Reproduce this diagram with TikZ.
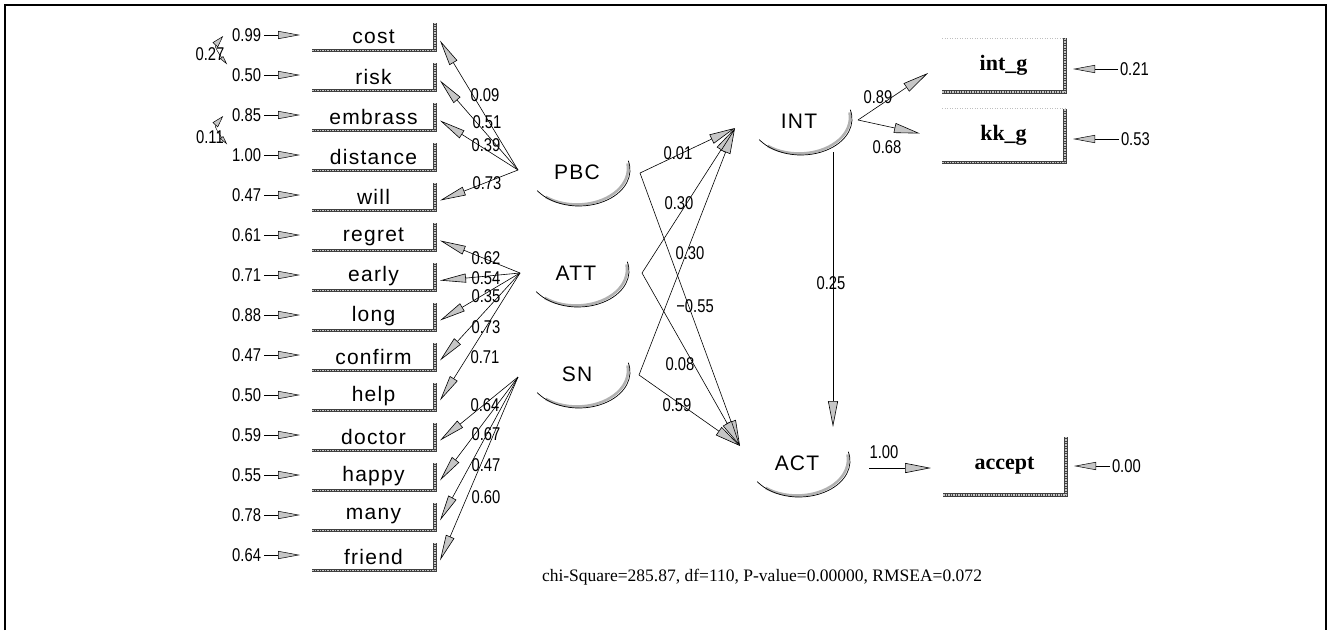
\documentclass[tikz,border=0pt]{standalone}
\usepackage{fontspec}
\usepackage{graphicx}
\setmainfont{Liberation Serif}
\newfontfamily\lbl[LetterSpace=6]{Liberation Sans}
\newfontfamily\num[FakeStretch=0.8]{Liberation Sans}
\usetikzlibrary{arrows.meta,calc}
\newcommand\obsframe[1]{%
  \draw[line width=3.4pt,black!75] (#1.south west) -- (#1.south east) -- (#1.north east);
  \draw[line width=1.2pt,gray!45,dash pattern=on 1.5pt off 1pt] (#1.south west) -- (#1.south east) -- (#1.north east);}
\newcommand\latarc[1]{%
  \draw[gray!60, line width=2.6pt] ($(#1)+(0pt,3.5pt)+(232:51pt and 36pt)$) arc[start angle=232,end angle=368,x radius=51pt,y radius=36pt];
  \draw[line width=0.7pt] ($(#1)+(2pt,2pt)+(215:51pt and 36pt)$) arc[start angle=215,end angle=375,x radius=51pt,y radius=36pt];}
\begin{document}
\begin{tikzpicture}[x=1pt,y=-1pt,
  obs/.style={inner sep=0,outer sep=0,minimum width=123pt,minimum height=28pt,font=\lbl\fontsize{21}{24}\selectfont},
  obsr/.style={inner sep=0,outer sep=0,minimum width=123pt,font=\bfseries\fontsize{22}{26}\selectfont},
  lat/.style={inner sep=0,outer sep=0,font=\lbl\fontsize{21}{24}\selectfont},
  numlbl/.style={inner sep=0,outer sep=0,font=\num\fontsize{18.5}{20}\selectfont},
  errarrow/.style={line width=0.5pt,-{Triangle[length=22pt,width=8pt,fill=gray!45]}},
  load/.style={line width=0.6pt,-{Triangle[length=26pt,width=9pt,fill=gray!45]}},
  path/.style={line width=0.6pt,-{Triangle[length=26pt,width=10pt,fill=gray!45]}},
  cov/.style={line width=0.5pt,{Triangle[length=12pt,width=7pt,fill=gray!45]}-{Triangle[length=9pt,width=4pt,fill=gray!45]}}]
\useasboundingbox (0,0) rectangle (1330,630);
\draw[line width=1.1pt] (5,630) -- (5,5) -- (1326,5) -- (1326,630);

% observed indicators (left)
\foreach \n/\e/\i in {cost/0.99/0,risk/0.50/1,embrass/0.85/2,distance/1.00/3,will/0.47/4,regret/0.61/5,early/0.71/6,long/0.88/7,confirm/0.47/8,help/0.50/9,doctor/0.59/10,happy/0.55/11,many/0.78/12,friend/0.64/13}{
  \node[obs] (\n) at (373.5,{36.5+40*\i}) {\n};
  \obsframe{\n}
  \node[numlbl,anchor=east] (e\n) at (261,{35+40*\i}) {\e};
  \draw[errarrow,shorten <=3pt,shorten >=12pt] (e\n.east) -- (e\n.east -| \n.west);
}

% correlated errors
\draw[cov] ([xshift=-9pt,yshift=-1pt]ecost.west) .. controls +(-9,10) and +(-8,-10) .. ([xshift=-5pt,yshift=4pt]erisk.north west);
\node[numlbl] (c1) at (210,54) {0.27};
\draw[cov] ([xshift=-9pt,yshift=-1pt]eembrass.west) .. controls +(-9,10) and +(-8,-10) .. ([xshift=-5pt,yshift=4pt]edistance.north west);
\node[numlbl] (c2) at (210,137) {0.11};

% latent variables
\node[lat] (PBC) at (577,172) {PBC};
\node[lat] (ATT) at (576,273) {ATT};
\node[lat] (SN) at (577,374) {SN};
\node[lat] (INT) at (799,121) {INT};
\node[lat] (ACT) at (797,463) {ACT};
\latarc{PBC}\latarc{ATT}\latarc{SN}\latarc{INT}\latarc{ACT}

\coordinate (pbcH) at (518,170);
\coordinate (attH) at (520,273);
\coordinate (snH) at (518,377);
\coordinate (pbcR) at (640,173);
\coordinate (attR) at (642,273);
\coordinate (snR) at (639,375);
\coordinate (intL) at (735,128);
\coordinate (actL) at (740,446);
\coordinate (intR) at (858,120);
\coordinate (intB) at (833,152);
\coordinate (actT) at (833,427);
\coordinate (actR) at (869,468);

% loadings
\foreach \h/\n in {pbcH/cost,pbcH/risk,pbcH/embrass,pbcH/will,attH/regret,attH/early,attH/long,attH/confirm,attH/help,snH/doctor,snH/happy,snH/many,snH/friend}{
  \draw[load] (\h) -- ([xshift=5pt,yshift=-4pt]\n.east);
}
\foreach \v/\x/\y in {0.09/485/95,0.51/487/122,0.39/486/145,0.73/487/183,0.62/486/258,0.54/486/278,0.35/486/296,0.73/486/327,0.71/485/357,0.64/485/405,0.67/486/434,0.47/486/465,0.60/486/497}{
  \node[numlbl] at (\x,\y) {\v};
}

% structural paths
\draw[path] (pbcR) -- (intL);
\draw[path] (pbcR) -- (actL);
\draw[path] (attR) -- (intL);
\draw[path] (attR) -- (actL);
\draw[path] (snR) -- (intL);
\draw[path] (snR) -- (actL);
\draw[path] (intB) -- (actT);
\node[numlbl] (p1) at (678,153) {0.01};
\node[numlbl] (p2) at (679,203) {0.30};
\node[numlbl] (p3) at (690,253) {0.30};
\node[numlbl] (p4) at (695,306) {−0.55};
\node[numlbl] (p5) at (680,364) {0.08};
\node[numlbl] (p6) at (677,405) {0.59};
\node[numlbl] (p7) at (831,283) {0.25};

% right indicators
\node[obsr,minimum height=54pt] (intg) at (1003.5,65) {int\_g};
\node[obsr,minimum height=54pt] (kkg) at (1003.5,135.5) {kk\_g};
\node[obsr,minimum height=58pt] (accept) at (1004.5,466) {accept};
\obsframe{intg}\obsframe{kkg}\obsframe{accept}
\draw[gray!50,dotted,line width=0.5pt] (intg.north west) -- (intg.north east);
\draw[gray!50,dotted,line width=0.5pt] (kkg.north west) -- (kkg.north east);

\draw[path] (intR) -- ([xshift=-14pt,yshift=-8pt]intg.west);
\draw[path] (intR) -- ([xshift=-22pt,yshift=2pt]kkg.west);
\node[numlbl] (l1) at (878,97) {0.89};
\node[numlbl] (l2) at (887,147) {0.68};
\draw[path] (actR) -- ([xshift=-12pt]accept.west |- actR);
\node[numlbl] (l3) at (884,452) {1.00};

\node[numlbl,anchor=west] (r1) at (1120,69) {0.21};
\node[numlbl,anchor=west] (r2) at (1121,139) {0.53};
\node[numlbl,anchor=west] (r3) at (1112,466) {0.00};
\draw[errarrow,shorten <=2pt,shorten >=8pt] (r1.west) -- (r1.west -| intg.east);
\draw[errarrow,shorten <=2pt,shorten >=8pt] (r2.west) -- (r2.west -| kkg.east);
\draw[errarrow,shorten <=2pt,shorten >=8pt] (r3.west) -- (r3.west -| accept.east);

\node[inner sep=0] (fit) at (762,577) {\resizebox{440pt}{!}{\fontsize{16}{18}\selectfont chi-Square=285.87, df=110, P-value=0.00000, RMSEA=0.072}};
\end{tikzpicture}
\end{document}
